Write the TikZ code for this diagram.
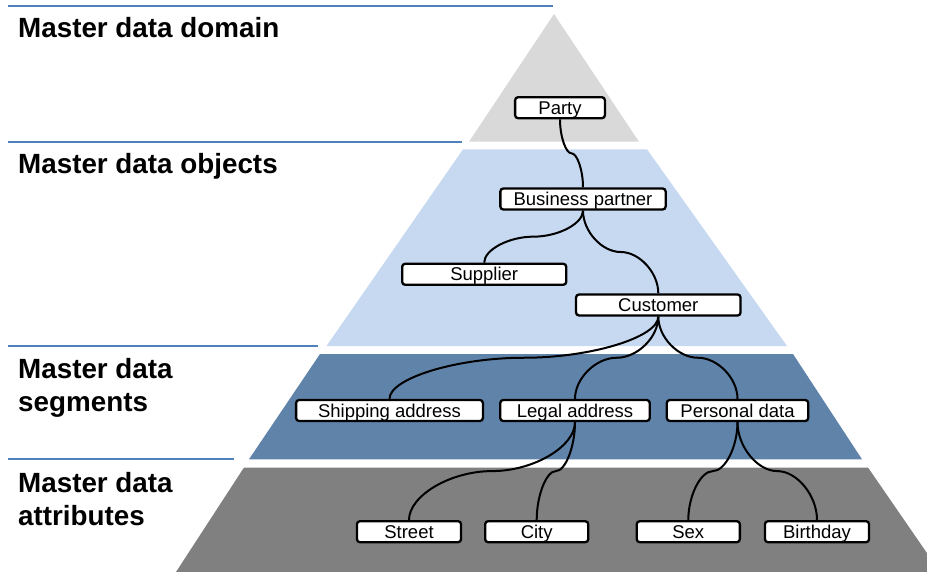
\documentclass[tikz,border=0pt]{standalone}
\usepackage{fontspec}
\setmainfont{Liberation Sans}
\usetikzlibrary{calc}
\definecolor{tierA}{RGB}{217,217,217}
\definecolor{tierB}{RGB}{198,217,240}
\definecolor{tierC}{RGB}{96,131,170}
\definecolor{tierD}{RGB}{128,128,128}
\definecolor{rulecol}{RGB}{79,129,189}

\begin{document}
\begin{tikzpicture}[x=1pt,y=-1pt,
  entity/.style={draw=black, line width=2.3pt, fill=white, rounded corners=3pt,
    inner sep=0pt, minimum height=21pt,
    font=\fontsize{18.5}{22}\selectfont, text height=13.3pt, text depth=0pt},
  level/.style={anchor=base west, align=left, inner sep=0pt,
    font=\fontsize{27.8}{33.5}\selectfont\bfseries},
  divider/.style={draw=rulecol, line width=1.8pt},
  link/.style={draw=black, line width=2pt,
    to path={let \p1=(\tikztostart), \p2=(\tikztotarget) in
      .. controls (\x1,{\y1+0.25*(\y2-\y1)}) and ({\x1+0.25*(\x2-\x1)},{0.5*(\y1+\y2)})
      .. ({0.5*(\x1+\x2)},{0.5*(\y1+\y2)})
      .. controls ({\x1+0.75*(\x2-\x1)},{0.5*(\y1+\y2)}) and (\x2,{\y1+0.75*(\y2-\y1)})
      .. (\x2,\y2)}}
]
\useasboundingbox (0,0) rectangle (927,572);
\clip (0,0) rectangle (927,572);

% pyramid tiers
\fill[tierA] (554,14) -- (639,141.7) -- (469,141.7) -- cycle;
\fill[tierB] (463,149.3) -- (647,149.3) -- (787,346) -- (326.5,346) -- cycle;
\fill[tierC] (320,354) -- (793,354) -- (862,459.3) -- (249,459.3) -- cycle;
\fill[tierD] (244,467.5) -- (868,467.5) -- (940,572) -- (176,572) -- cycle;

% divider rules on the left
\draw[divider] (8,6) -- (553,6);
\draw[divider] (8,141.7) -- (462,141.7);
\draw[divider] (8,345.7) -- (318,345.7);
\draw[divider] (8,459.3) -- (234,459.3);

% tier captions (two-line captions are placed by their last baseline)
\node[level] (capDomain)  at (18,38)  {Master data domain};
\node[level] (capObjects) at (18,174) {Master data objects};
\node[level] (capSegments) at (18,411.5) {Master data\\segments};
\node[level] (capAttrs)   at (18,525.5) {Master data\\attributes};

% entities
\node[entity, minimum width=89.8pt]  (party)    at (560,107.7)   {Party};
\node[entity, minimum width=165.3pt] (bp)       at (583,199)     {Business partner};
\node[entity, minimum width=164.1pt] (supplier) at (484.2,274.3) {Supplier};
\node[entity, minimum width=164.5pt] (customer) at (658.3,305)   {Customer};
\node[entity, minimum width=186.8pt] (shipping) at (389.5,410.5) {Shipping address};
\node[entity, minimum width=149.5pt] (legal)    at (575,410.5)   {Legal address};
\node[entity, minimum width=141.4pt] (personal) at (737.5,410.5) {Personal data};
\node[entity, minimum width=104.1pt] (street)   at (409,531.7)   {Street};
\node[entity, minimum width=103.1pt] (city)     at (536.7,531.7) {City};
\node[entity, minimum width=103.1pt] (sex)      at (688.3,531.7) {Sex};
\node[entity, minimum width=104.1pt] (birthday) at (817,531.7)   {Birthday};

% hierarchy links
\draw[link] (party.south) to (bp.north);
\draw[link] (bp.south) to (supplier.north);
\draw[link] (bp.south) to (customer.north);
\draw[link] (customer.south) to (shipping.north);
\draw[link] (customer.south) to (legal.north);
\draw[link] (customer.south) to (personal.north);
\draw[link] (legal.south) to (street.north);
\draw[link] (legal.south) to (city.north);
\draw[link] (personal.south) to (sex.north);
\draw[link] (personal.south) to (birthday.north);
\end{tikzpicture}
\end{document}
